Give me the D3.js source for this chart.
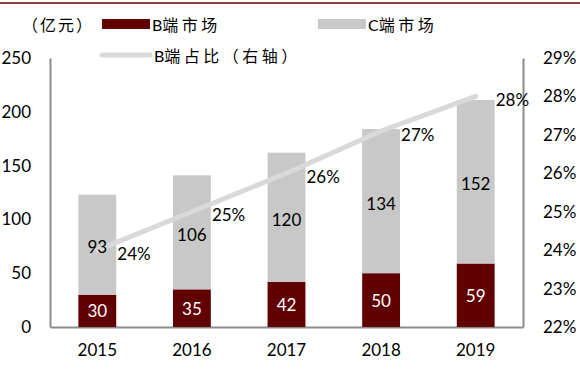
<!DOCTYPE html>
<html><head><meta charset="utf-8">
<script src="https://cdn.jsdelivr.net/npm/d3@7"></script>
<style>
body{margin:0;background:#fff;}
svg{display:block;}
text{font-family:Lato,"Noto Sans CJK SC",sans-serif;}
</style></head>
<body>
<svg id="c" width="580" height="392"></svg>
<script>
const years = ["2015","2016","2017","2018","2019"];
const bMarket = [30,35,42,50,59];
const cMarket = [93,106,120,134,152];
const bShare = [0.240,0.250,0.260,0.271,0.280];
const shareLabels = ["24%","25%","26%","27%","28%"];
const leftTicks = [0,50,100,150,200,250];
const rightTicks = [0.22,0.23,0.24,0.25,0.26,0.27,0.28,0.29];

const svg = d3.select("#c");
const L=50, R=523, T=58, B=327;
const x = d3.scaleBand().domain(years).range([L,R]).paddingInner(0.6).paddingOuter(0.3);
const y = d3.scaleLinear().domain([0,250]).range([B,T]);
const y2 = d3.scaleLinear().domain([0.22,0.29]).range([B,T]);
const bw = x.bandwidth();
const cx = d => x(d)+bw/2;
const FS = 17;

// top border
svg.append("line").attr("x1",0).attr("x2",580).attr("y1",3).attr("y2",3)
  .attr("stroke","#6b0000").attr("stroke-width",1.5);

// axes
const axL = svg.append("g").attr("transform",`translate(${L},0)`)
  .call(d3.axisLeft(y).tickValues(leftTicks).tickSize(0).tickPadding(19));
const axR = svg.append("g").attr("transform",`translate(${R},0)`)
  .call(d3.axisRight(y2).tickValues(rightTicks).tickSize(0).tickPadding(20).tickFormat(d3.format(".0%")));
const axB = svg.append("g").attr("transform",`translate(0,${B})`)
  .call(d3.axisBottom(x).tickSize(0).tickPadding(17));
[axL,axR,axB].forEach(a=>{
  a.select(".domain").attr("stroke","#8c8c8c").attr("stroke-width",2);
  a.selectAll("text").attr("font-size",FS).attr("fill","#000")
   .style("font-family","Lato,sans-serif");
});

// bars
svg.append("g").selectAll("rect").data(years).join("rect")
  .attr("x",d=>x(d)).attr("width",bw)
  .attr("y",(d,i)=>y(bMarket[i])).attr("height",(d,i)=>y(0)-y(bMarket[i]))
  .attr("fill","#600000");
svg.append("g").selectAll("rect").data(years).join("rect")
  .attr("x",d=>x(d)).attr("width",bw)
  .attr("y",(d,i)=>y(bMarket[i]+cMarket[i])).attr("height",(d,i)=>y(bMarket[i])-y(bMarket[i]+cMarket[i]))
  .attr("fill","#c8c8c8");

// line
const line = d3.line().x((d,i)=>cx(years[i])).y(d=>y2(d));
svg.append("path").datum(bShare).attr("d",line).attr("fill","none")
  .attr("stroke","#d9d9d9").attr("stroke-width",5).attr("stroke-linecap","round");

// bar labels
svg.append("g").selectAll("text").data(years).join("text")
  .attr("x",d=>cx(d)).attr("y",(d,i)=>(y(0)+y(bMarket[i]))/2)
  .attr("text-anchor","middle").attr("dominant-baseline","central")
  .attr("font-size",FS).attr("fill","#fff").text((d,i)=>bMarket[i]);
svg.append("g").selectAll("text").data(years).join("text")
  .attr("x",d=>cx(d)).attr("y",(d,i)=>(y(bMarket[i])+y(bMarket[i]+cMarket[i]))/2+2)
  .attr("text-anchor","middle").attr("dominant-baseline","central")
  .attr("font-size",FS).attr("fill","#000").text((d,i)=>cMarket[i]);
// share labels
svg.append("g").selectAll("text").data(years).join("text")
  .attr("x",d=>cx(d)+20).attr("y",(d,i)=>y2(bShare[i])+3)
  .attr("dominant-baseline","central")
  .attr("font-size",FS).attr("fill","#000").text((d,i)=>shareLabels[i]);

// legend
const lg = svg.append("g");
function legText(xp, yp, first, rest){
  const t = lg.append("text").attr("x",xp).attr("y",yp).attr("dominant-baseline","central")
    .attr("font-size",16);
  if(first) t.append("tspan").attr("letter-spacing",0).text(first);
  t.append("tspan").attr("letter-spacing",3.5).text(rest);
}
lg.append("text").attr("x",22).attr("y",24).attr("dominant-baseline","central")
  .attr("font-size",16).attr("letter-spacing",2).text("（亿元）");
lg.append("rect").attr("x",102).attr("y",19).attr("width",48).attr("height",10).attr("fill","#600000");
legText(152,24,"B","端市场");
lg.append("rect").attr("x",318).attr("y",19).attr("width",48).attr("height",10).attr("fill","#c8c8c8");
legText(368,24,"C","端市场");
lg.append("line").attr("x1",102).attr("x2",150).attr("y1",55).attr("y2",55)
  .attr("stroke","#d9d9d9").attr("stroke-width",5).attr("stroke-linecap","round");
legText(154,55,"B","端占比（右轴）");
</script>
</body></html>
